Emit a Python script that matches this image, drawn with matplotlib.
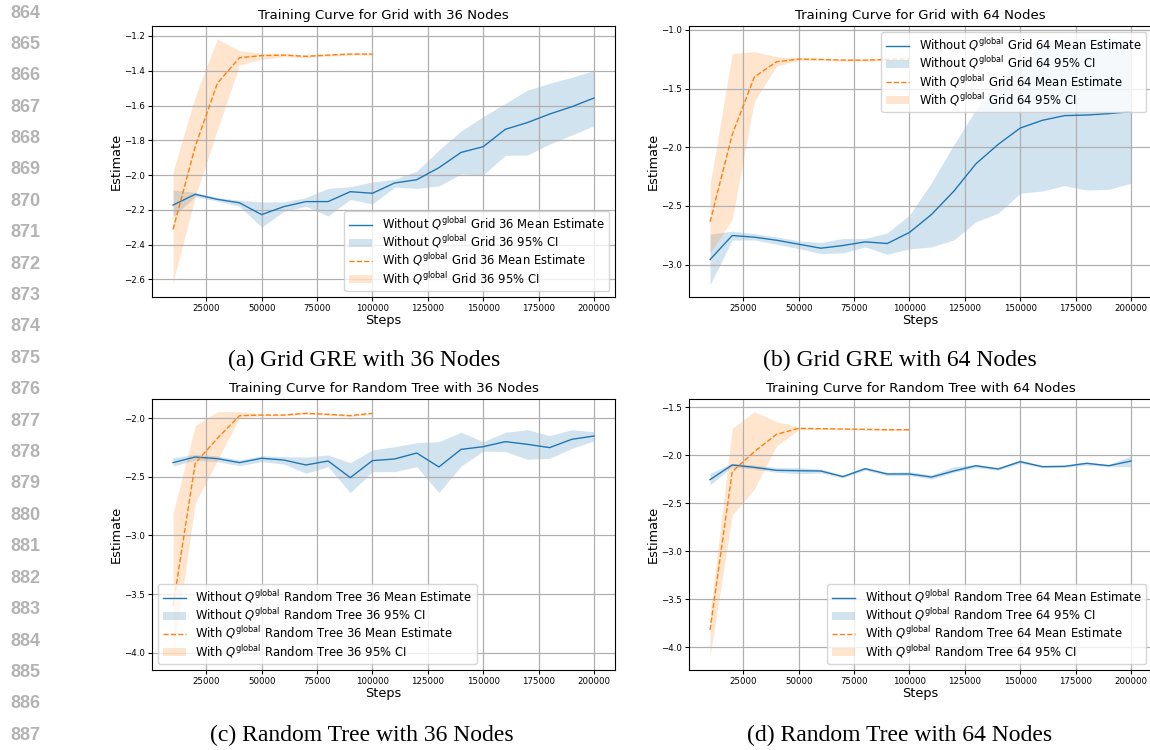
import matplotlib
matplotlib.use("Agg")
import matplotlib.pyplot as plt
from matplotlib.ticker import MultipleLocator

# Pasos de entrenamiento
pasos = [10000, 20000, 30000, 40000, 50000, 60000, 70000, 80000, 90000, 100000,
         110000, 120000, 130000, 140000, 150000, 160000, 170000, 180000, 190000, 200000]
pasos_con_q = pasos[:10]

# Grid 36 nodos
g36_sin_media = [-2.173, -2.111, -2.140, -2.160, -2.228, -2.182, -2.153, -2.153, -2.096, -2.105,
                 -2.046, -2.027, -1.958, -1.870, -1.837, -1.737, -1.698, -1.649, -1.607, -1.557]
g36_sin_inf = [-2.240, -2.125, -2.150, -2.180, -2.300, -2.210, -2.180, -2.236, -2.140, -2.167,
               -2.070, -2.077, -2.063, -1.994, -2.000, -1.887, -1.885, -1.822, -1.770, -1.716]
g36_sin_sup = [-2.085, -2.100, -2.130, -2.145, -2.155, -2.155, -2.130, -2.077, -2.067, -2.040,
               -2.025, -1.977, -1.856, -1.747, -1.664, -1.588, -1.511, -1.472, -1.438, -1.399]
g36_con_media = [-2.313, -1.837, -1.472, -1.325, -1.313, -1.310, -1.317, -1.310, -1.304, -1.304]
g36_con_inf = [-2.620, -2.125, -1.741, -1.367, -1.334, -1.320, -1.325, -1.316, -1.310, -1.310]
g36_con_sup = [-1.980, -1.549, -1.217, -1.284, -1.300, -1.300, -1.310, -1.304, -1.298, -1.298]

# Grid 64 nodos
g64_sin_media = [-2.957, -2.752, -2.766, -2.792, -2.826, -2.860, -2.837, -2.806, -2.820, -2.726,
                 -2.572, -2.375, -2.141, -1.976, -1.836, -1.770, -1.730, -1.725, -1.713, -1.696]
g64_sin_inf = [-3.171, -2.790, -2.790, -2.826, -2.863, -2.906, -2.900, -2.849, -2.912, -2.866,
               -2.849, -2.790, -2.635, -2.563, -2.392, -2.372, -2.327, -2.364, -2.358, -2.307]
g64_sin_sup = [-2.740, -2.715, -2.735, -2.763, -2.797, -2.812, -2.777, -2.777, -2.729, -2.578,
               -2.300, -1.979, -1.679, -1.450, -1.250, -1.130, -1.080, -1.070, -1.070, -1.090]
g64_con_media = [-2.635, -1.893, -1.400, -1.271, -1.248, -1.251, -1.257, -1.257, -1.251, -1.245]
g64_con_inf = [-2.900, -2.615, -1.608, -1.308, -1.260, -1.260, -1.266, -1.266, -1.260, -1.255]
g64_con_sup = [-2.321, -1.200, -1.185, -1.228, -1.237, -1.242, -1.248, -1.248, -1.242, -1.236]

# Random Tree 36 nodos
rt36_sin_media = [-2.378, -2.330, -2.344, -2.378, -2.341, -2.356, -2.398, -2.364, -2.506, -2.361,
                  -2.347, -2.296, -2.415, -2.265, -2.242, -2.199, -2.222, -2.250, -2.179, -2.151]
rt36_sin_inf = [-2.407, -2.358, -2.370, -2.404, -2.370, -2.390, -2.469, -2.413, -2.634, -2.455,
                -2.455, -2.413, -2.634, -2.407, -2.279, -2.284, -2.350, -2.341, -2.256, -2.193]
rt36_sin_sup = [-2.336, -2.307, -2.321, -2.356, -2.319, -2.327, -2.330, -2.313, -2.378, -2.270,
                -2.242, -2.208, -2.199, -2.119, -2.199, -2.119, -2.097, -2.148, -2.097, -2.114]
rt36_con_media = [-3.600, -2.384, -2.171, -1.977, -1.972, -1.972, -1.957, -1.966, -1.977, -1.957]
rt36_con_inf = [-4.040, -2.725, -2.360, -1.994, -1.980, -1.980, -1.965, -1.974, -1.985, -1.965]
rt36_con_sup = [-2.810, -2.063, -1.943, -1.943, -1.964, -1.964, -1.949, -1.958, -1.969, -1.949]

# Random Tree 64 nodos
rt64_sin_media = [-2.253, -2.100, -2.125, -2.156, -2.160, -2.163, -2.222, -2.139, -2.194, -2.194,
                  -2.226, -2.163, -2.108, -2.142, -2.066, -2.118, -2.115, -2.083, -2.108, -2.059]
rt64_sin_inf = [-2.309, -2.118, -2.142, -2.177, -2.191, -2.184, -2.233, -2.156, -2.212, -2.212,
                -2.247, -2.177, -2.128, -2.156, -2.083, -2.128, -2.125, -2.101, -2.118, -2.118]
rt64_sin_sup = [-2.188, -2.083, -2.101, -2.128, -2.128, -2.142, -2.205, -2.125, -2.177, -2.170,
                -2.205, -2.118, -2.094, -2.128, -2.049, -2.104, -2.101, -2.069, -2.094, -2.007]
rt64_con_media = [-3.819, -2.170, -1.962, -1.781, -1.719, -1.722, -1.726, -1.729, -1.733, -1.733]
rt64_con_inf = [-4.097, -2.622, -2.350, -1.903, -1.733, -1.730, -1.734, -1.737, -1.741, -1.741]
rt64_con_sup = [-3.663, -1.719, -1.545, -1.649, -1.705, -1.714, -1.718, -1.721, -1.725, -1.725]

numeros_linea = list(range(864, 888))
subtitulos = ["(a) Grid GRE with 36 Nodes", "(b) Grid GRE with 64 Nodes",
              "(c) Random Tree with 36 Nodes", "(d) Random Tree with 64 Nodes"]


def dibujar_panel(ax, titulo, nombre, sin, con, ylim, paso_y, loc_leyenda):
    """Dibuja un panel con las curvas con y sin Q global y sus intervalos."""
    media_s, inf_s, sup_s = sin
    media_c, inf_c, sup_c = con
    ax.plot(pasos, media_s, color="#1f77b4", lw=1.0,
            label=r"Without $Q^{\mathrm{global}}$ " + nombre + " Mean Estimate")
    ax.fill_between(pasos, inf_s, sup_s, color="#1f77b4", alpha=0.2, lw=0,
                    label=r"Without $Q^{\mathrm{global}}$ " + nombre + " 95% CI")
    ax.plot(pasos_con_q, media_c, color="#ff7f0e", lw=1.0, ls="--",
            label=r"With $Q^{\mathrm{global}}$ " + nombre + " Mean Estimate")
    ax.fill_between(pasos_con_q, inf_c, sup_c, color="#ff7f0e", alpha=0.2, lw=0,
                    label=r"With $Q^{\mathrm{global}}$ " + nombre + " 95% CI")

    ax.set_title(titulo, fontsize=9.5, pad=5)
    ax.set_xlabel("Steps", fontsize=9.3, labelpad=1)
    ax.set_ylabel("Estimate", fontsize=9.3, labelpad=1)
    ax.set_xlim(500, 209500)
    ax.set_ylim(*ylim)
    ax.xaxis.set_major_locator(MultipleLocator(25000))
    ax.yaxis.set_major_locator(MultipleLocator(paso_y))
    ax.tick_params(labelsize=6.2, length=3, pad=2)
    ax.grid(True, color="#b0b0b0", lw=0.9)
    ax.legend(loc=loc_leyenda, fontsize=8.4, labelspacing=0.1)


fig = plt.figure(figsize=(11.5, 7.5), dpi=100)

ancho, alto = 463 / 1150, 271 / 750
ax_a = fig.add_axes([152 / 1150, 1 - 297 / 750, ancho, alto])
ax_b = fig.add_axes([689 / 1150, 1 - 297 / 750, ancho, alto])
ax_c = fig.add_axes([152 / 1150, 1 - 670 / 750, ancho, alto])
ax_d = fig.add_axes([689 / 1150, 1 - 670 / 750, ancho, alto])

dibujar_panel(ax_a, "Training Curve for Grid with 36 Nodes", "Grid 36",
              (g36_sin_media, g36_sin_inf, g36_sin_sup),
              (g36_con_media, g36_con_inf, g36_con_sup),
              (-2.702, -1.1425), 0.2, "lower right")
dibujar_panel(ax_b, "Training Curve for Grid with 64 Nodes", "Grid 64",
              (g64_sin_media, g64_sin_inf, g64_sin_sup),
              (g64_con_media, g64_con_inf, g64_con_sup),
              (-3.276, -0.966), 0.5, "upper right")
dibujar_panel(ax_c, "Training Curve for Random Tree with 36 Nodes", "Random Tree 36",
              (rt36_sin_media, rt36_sin_inf, rt36_sin_sup),
              (rt36_con_media, rt36_con_inf, rt36_con_sup),
              (-4.148, -1.835), 0.5, "lower left")
dibujar_panel(ax_d, "Training Curve for Random Tree with 64 Nodes", "Random Tree 64",
              (rt64_sin_media, rt64_sin_inf, rt64_sin_sup),
              (rt64_con_media, rt64_con_inf, rt64_con_sup),
              (-4.236, -1.413), 0.5, "lower right")

# Pies de figura en estilo de articulo
pos_pies = [(364, 360), (900, 360), (362, 735), (900, 735)]
for texto, (px, py) in zip(subtitulos, pos_pies):
    fig.text(px / 1150, 1 - py / 750, texto, family="Liberation Serif",
             fontsize=17, ha="center", va="center")

# Numeros de linea del margen
for i, n in enumerate(numeros_linea):
    fig.text(10 / 1150, 1 - (13 + i * 31.4) / 750, str(n), family="Liberation Sans",
             fontweight="bold", color="#b3b3b3", fontsize=13, ha="left", va="center")

fig.savefig("out.png", dpi=100)
